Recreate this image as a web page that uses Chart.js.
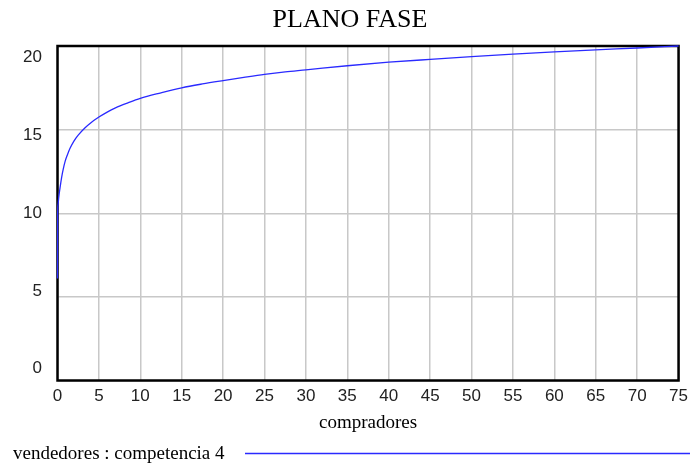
<!DOCTYPE html>
<html>
<head>
<meta charset="utf-8">
<title>PLANO FASE</title>
<script src="https://cdn.jsdelivr.net/npm/chart.js@4/dist/chart.umd.min.js"></script>
<style>
  html, body { margin: 0; padding: 0; background: #fff; }
  canvas { display: block; }
</style>
</head>
<body>
<canvas id="fase" width="694" height="465"></canvas>
<script>
// phase plane: vendedores against compradores
const compradores = [0, 0.02, 0.06, 0.15, 0.3, 0.5, 0.7, 0.92, 1.2, 1.5, 2, 2.5, 3.3, 4, 5, 6, 7, 8.5, 10,
                     12.5, 15, 17.5, 20, 22.5, 25, 27.5, 30, 35, 40, 45, 50, 55, 60, 65, 70, 75];
const vendedores  = [6.1, 10.0, 10.5, 10.95, 11.5, 12.15, 12.65, 13.1, 13.5, 13.87, 14.33, 14.67, 15.1, 15.4, 15.75, 16.05, 16.3, 16.6, 16.87,
                     17.2, 17.5, 17.73, 17.93, 18.12, 18.3, 18.45, 18.57, 18.82, 19.03, 19.2, 19.36, 19.51, 19.65, 19.77, 19.88, 20.0];
const yTicks = [0, 5, 10, 15, 20];

const chartTitle = 'PLANO FASE';
const xTitle = 'compradores';
const seriesName = 'vendedores : competencia 4';
const lineColor = '#2a2aff';

// frame, y labels, titles and the legend line are painted by hand,
// underneath the curve so it stays visible along the frame
const framePlugin = {
    id: 'frame',
    beforeDatasetsDraw(chart) {
        const { ctx, chartArea: a, scales: { y } } = chart;
        ctx.save();

        ctx.strokeStyle = '#000';
        ctx.lineWidth = 2.5;
        ctx.strokeRect(a.left, a.top, a.right - a.left, a.bottom - a.top);

        // y labels sit a little closer to the middle than their grid lines
        const mid = (a.top + a.bottom) / 2;
        ctx.font = '17px "Liberation Sans"';
        ctx.fillStyle = '#222';
        ctx.textAlign = 'right';
        ctx.textBaseline = 'middle';
        yTicks.forEach(v => {
            const p = y.getPixelForValue(v);
            ctx.fillText(String(v), 42, mid + (p - mid) * 0.93);
        });

        ctx.textBaseline = 'alphabetic';
        ctx.textAlign = 'center';
        ctx.fillStyle = '#000';
        ctx.font = '26px "Liberation Serif"';
        ctx.fillText(chartTitle, 350, 27);

        ctx.font = '19px "Liberation Serif"';
        ctx.fillText(xTitle, (a.left + a.right) / 2, 428);

        ctx.textAlign = 'left';
        ctx.fillText(seriesName, 13, 459);

        ctx.strokeStyle = lineColor;
        ctx.lineWidth = 1.3;
        ctx.beginPath();
        ctx.moveTo(245, 453.5);
        ctx.lineTo(690, 453.5);
        ctx.stroke();

        ctx.restore();
    }
};

new Chart(document.getElementById('fase'), {
    type: 'line',
    data: {
        datasets: [{
            label: seriesName,
            data: compradores.map((x, i) => ({ x, y: vendedores[i] })),
            borderColor: lineColor,
            borderWidth: 1.3,
            pointRadius: 0,
            cubicInterpolationMode: 'monotone',
            clip: 4
        }]
    },
    options: {
        responsive: false,
        animation: false,
        layout: { padding: { top: 46, right: 11, bottom: 0, left: 0 } },
        plugins: {
            legend: { display: false },
            title: { display: false },
            tooltip: { enabled: false }
        },
        scales: {
            x: {
                type: 'linear',
                min: 0,
                max: 75,
                afterFit: s => { s.height = 84.5; },
                border: { display: false },
                grid: { color: '#c8c8c8', lineWidth: 1.5, drawTicks: false },
                ticks: {
                    stepSize: 5,
                    padding: 6,
                    maxRotation: 0,
                    color: '#222',
                    font: { family: 'Liberation Sans', size: 17 }
                }
            },
            y: {
                min: 0,
                max: 20,
                afterFit: s => { s.width = 57.5; },
                border: { display: false },
                grid: { color: '#c8c8c8', lineWidth: 1.5, drawTicks: false },
                ticks: { stepSize: 5, display: false }
            }
        }
    },
    plugins: [framePlugin]
});
</script>
</body>
</html>
